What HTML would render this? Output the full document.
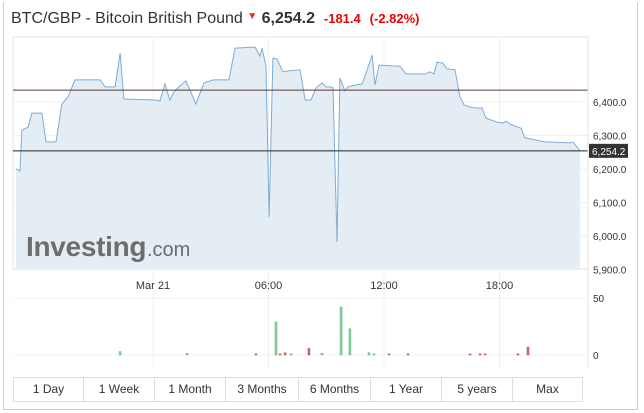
<!DOCTYPE html>
<html><head><meta charset="utf-8"><style>
body{margin:0;width:644px;height:413px;background:#fff;font-family:"Liberation Sans",sans-serif;overflow:hidden;position:relative}
.frame{position:absolute;left:3px;top:2px;width:633px;height:407px;border:1px solid #ccc;border-top:none}
.title{position:absolute;left:11px;top:10px;font-size:16px;color:#333;white-space:nowrap}
.btns{position:absolute;left:13px;top:377px;height:23px;display:flex;border:1px solid #ddd}
.btns div{border-right:1px solid #ddd;font-size:12px;color:#333;text-align:center;line-height:23px}
.btns div:last-child{border-right:none}
</style></head><body>
<div class="frame"></div>
<div class="title">BTC/GBP - Bitcoin British Pound <span style="color:#e22;font-size:10px;vertical-align:4px">&#9660;</span> <b>6,254.2</b> &nbsp;<span style="color:#e00;font-size:13px;font-weight:bold">-181.4</span> &nbsp;<span style="color:#e00;font-size:13px;font-weight:bold">(-2.82%)</span></div>
<svg id="c" width="644" height="413" style="position:absolute;left:0;top:0"></svg>
<div class="btns">
<div style="width:69px">1 Day</div>
<div style="width:70px">1 Week</div>
<div style="width:70px">1 Month</div>
<div style="width:72px">3 Months</div>
<div style="width:71px">6 Months</div>
<div style="width:70px">1 Year</div>
<div style="width:70px">5 years</div>
<div style="width:69px">Max</div>
</div>
<script>
const times=[-7.12,-6.91,-6.81,-6.49,-6.29,-5.77,-5.56,-5.04,-4.73,-4.42,-4.05,-2.75,-2.49,-1.97,-1.71,-1.51,0.10,0.36,0.62,0.88,1.09,1.40,1.71,2.03,2.23,2.65,3.12,3.95,4.26,5.30,5.56,5.66,5.87,6.03,6.23,6.44,6.75,7.12,7.64,7.90,8.21,8.47,8.78,8.99,9.25,9.35,9.56,9.71,9.97,10.13,10.55,10.86,11.12,11.38,11.53,11.74,12.83,13.14,14.13,14.39,14.60,14.75,15.06,15.27,15.69,15.95,16.16,16.47,16.78,17.09,17.30,17.87,18.18,18.34,18.55,18.81,19.12,19.32,19.58,20.36,21.66,21.82,22.18];
const prices=[6200,6194,6316,6325,6367,6367,6281,6281,6394,6415,6466,6466,6445,6445,6546,6409,6406,6403,6454,6406,6430,6448,6463,6421,6394,6457,6466,6466,6561,6564,6537,6561,6507,6057,6531,6528,6490,6493,6496,6406,6406,6442,6457,6445,6445,6442,5982,6472,6433,6445,6451,6454,6496,6540,6451,6510,6507,6484,6484,6490,6484,6519,6516,6499,6496,6415,6391,6385,6382,6382,6352,6340,6337,6343,6334,6328,6322,6293,6290,6281,6278,6281,6254];
const yTicks=[6400,6300,6200,6100,6000,5900];
const xTickHours=[0,6,12,18];
const xTickLabels=["Mar 21","06:00","12:00","18:00"];
const prevClose=6435.6, lastPrice=6254.2;
const volTimes=[-1.71,1.77,5.35,6.39,6.60,6.86,7.17,8.10,8.78,9.77,10.23,11.22,11.48,12.26,13.25,16.47,16.99,17.25,18.96,19.48];
const volValues=[3,1.5,1,29,1,2,1,6,1.5,42,23,2,1,1,1,1,1,1,1,7];
const volUp=[1,1,0,1,0,0,1,0,1,1,1,1,1,0,0,0,0,0,0,0];
const X=h=>153+h*19.25, Y=p=>102+(6400-p)*0.335, VY=v=>355-v*1.14;
const s=document.getElementById('c'),NS="http://www.w3.org/2000/svg";
function el(t,a,txt){const e=document.createElementNS(NS,t);for(const k in a)e.setAttribute(k,a[k]);if(txt!=null)e.textContent=txt;s.appendChild(e);return e;}
let e;
e=el('rect',{x:13,y:37,width:575,height:232,fill:'none',stroke:'#e6e6e6'});


yTicks.forEach(t=>{e=el('line',{x1:13,x2:588,y1:Y(t),y2:Y(t),stroke:'#f0f0f0'});


e=el('text',{x:593,y:Y(t)+4,'font-size':10,fill:'#333'},t.toLocaleString('en-US',{minimumFractionDigits:1}));

});
xTickHours.forEach((h,i)=>{e=el('line',{x1:X(h),x2:X(h),y1:37,y2:367,stroke:'#f0f0f0'});


e=el('text',{x:X(h),y:289,'font-size':11,fill:'#333','text-anchor':'middle'},xTickLabels[i]);

});
let d=times.map((t,i)=>(i?'L':'M')+X(t).toFixed(1)+','+Y(prices[i]).toFixed(1)).join('');
e=el('path',{d:d+'L'+X(times[times.length-1])+','+Y(5900)+'L'+X(times[0])+','+Y(5900)+'Z',fill:'#e5edf4'});


e=el('text',{x:26,y:256,'font-size':28,'font-weight':'bold',fill:'#6d6d6d','letter-spacing':'-0.3'},'Investing');


e=el('text',{x:147,y:256,'font-size':20,fill:'#6d6d6d'},'.com');


e=el('path',{d:d,fill:'none',stroke:'#7eacd8','stroke-width':1});


e=el('line',{x1:13,x2:588,y1:Y(prevClose),y2:Y(prevClose),stroke:'#5a3a3a'});


e=el('line',{x1:13,x2:588,y1:Y(lastPrice),y2:Y(lastPrice),stroke:'#222'});


e=el('rect',{x:589,y:Y(lastPrice)-7,width:39,height:14,fill:'#333'});


e=el('text',{x:592,y:Y(lastPrice)+4,'font-size':10,fill:'#fff'},'6,254.2');


[0,50].forEach(v=>{e=el('line',{x1:13,x2:588,y1:VY(v),y2:VY(v),stroke:'#f0f0f0'});


e=el('text',{x:593,y:VY(v)+4,'font-size':10,fill:'#333'},String(v));

});
e=el('line',{x1:588,x2:588,y1:37,y2:367,stroke:'#e0e0e0'});


volTimes.forEach((t,i)=>{const up=volUp[i];e=el('rect',{x:X(t)-1,y:VY(volValues[i]),width:2,height:355-VY(volValues[i]),fill:up?'#8fd0a5':'#c86f6a',stroke:up?'#5cb57a':'#b55',"stroke-width":0.5});

});
</script>
</body></html>
